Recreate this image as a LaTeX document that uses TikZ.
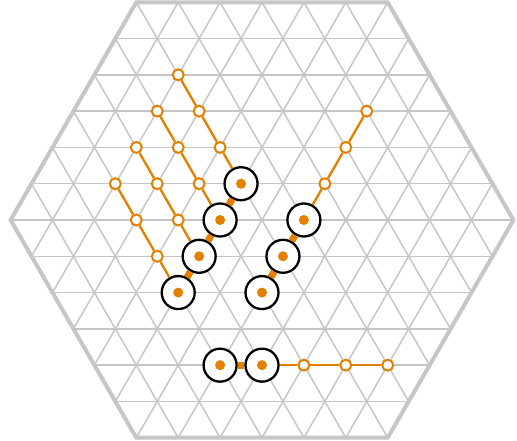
\documentclass[tikz,border=0pt]{standalone}
\definecolor{gcol}{RGB}{228,128,0}
\definecolor{gridc}{RGB}{198,198,198}
\tikzset{
  opennode/.style={circle,draw=gcol,line width=2pt,fill=white,minimum size=11pt,inner sep=0pt},
  bignode/.style={circle,draw=black,line width=2.3pt,fill=white,minimum size=33pt,inner sep=0pt,
    path picture={\fill[gcol] (path picture bounding box.center) circle (5pt);}},
  thinedge/.style={draw=gcol,line width=2.3pt},
  thickedge/.style={draw=gcol,line width=7pt},
}
\newcommand{\ax}{20.95}
\newcommand{\ay}{36.29}
\begin{document}
\begin{tikzpicture}[x=1pt,y=-1pt]
\useasboundingbox (0,0) rectangle (517,441);
% hexagon corners
\coordinate (h1) at ({262-6*\ax},{220-6*\ay});
\coordinate (h2) at ({262+6*\ax},{220-6*\ay});
\coordinate (h3) at ({262+12*\ax},220);
\coordinate (h4) at ({262+6*\ax},{220+6*\ay});
\coordinate (h5) at ({262-6*\ax},{220+6*\ay});
\coordinate (h6) at ({262-12*\ax},220);
\begin{scope}
  \clip (h1) -- (h2) -- (h3) -- (h4) -- (h5) -- (h6) -- cycle;
  \foreach \k in {0,...,12} {
    \draw[gridc,line width=1.5pt] (0,{220+(\k-6)*\ay}) -- (517,{220+(\k-6)*\ay});
  }
  \foreach \m in {-24,-22,...,24} {
    \draw[gridc,line width=1.5pt] ({262+\m*\ax-7*\ax},{220-7*\ay}) -- ({262+\m*\ax+7*\ax},{220+7*\ay});
    \draw[gridc,line width=1.5pt] ({262+\m*\ax+7*\ax},{220-7*\ay}) -- ({262+\m*\ax-7*\ax},{220+7*\ay});
  }
\end{scope}
\draw[gridc,line width=4pt,line join=miter] (h1) -- (h2) -- (h3) -- (h4) -- (h5) -- (h6) -- cycle;
% nodes
\newcommand{\Pos}[2]{({262+(#1)*\ax},{220+((#2)-6)*\ay})}
\node[opennode] (a1) at \Pos{-4}{2} {};
\node[opennode] (a2) at \Pos{-3}{3} {};
\node[opennode] (a3) at \Pos{-2}{4} {};
\node[opennode] (b1) at \Pos{-5}{3} {};
\node[opennode] (b2) at \Pos{-4}{4} {};
\node[opennode] (b3) at \Pos{-3}{5} {};
\node[opennode] (c1) at \Pos{-6}{4} {};
\node[opennode] (c2) at \Pos{-5}{5} {};
\node[opennode] (c3) at \Pos{-4}{6} {};
\node[opennode] (d1) at \Pos{-7}{5} {};
\node[opennode] (d2) at \Pos{-6}{6} {};
\node[opennode] (d3) at \Pos{-5}{7} {};
\node[opennode] (r1) at \Pos{5}{3} {};
\node[opennode] (r2) at \Pos{4}{4} {};
\node[opennode] (r3) at \Pos{3}{5} {};
\node[opennode] (e1) at \Pos{2}{10} {};
\node[opennode] (e2) at \Pos{4}{10} {};
\node[opennode] (e3) at \Pos{6}{10} {};
\node[bignode] (B1) at \Pos{-1}{5} {};
\node[bignode] (B2) at \Pos{-2}{6} {};
\node[bignode] (B3) at \Pos{-3}{7} {};
\node[bignode] (B4) at \Pos{-4}{8} {};
\node[bignode] (R1) at \Pos{2}{6} {};
\node[bignode] (R2) at \Pos{1}{7} {};
\node[bignode] (R3) at \Pos{0}{8} {};
\node[bignode] (L1) at \Pos{-2}{10} {};
\node[bignode] (L2) at \Pos{0}{10} {};
% edges
\path[thinedge] (a1) -- (a2) (a2) -- (a3) (a3) -- (B1);
\path[thinedge] (b1) -- (b2) (b2) -- (b3) (b3) -- (B2);
\path[thinedge] (c1) -- (c2) (c2) -- (c3) (c3) -- (B3);
\path[thinedge] (d1) -- (d2) (d2) -- (d3) (d3) -- (B4);
\path[thinedge] (r1) -- (r2) (r2) -- (r3) (r3) -- (R1);
\path[thinedge] (L2) -- (e1) (e1) -- (e2) (e2) -- (e3);
\path[thickedge] (B1) -- (B2) (B2) -- (B3) (B3) -- (B4);
\path[thickedge] (R1) -- (R2) (R2) -- (R3);
\path[thickedge] (L1) -- (L2);
\end{tikzpicture}
\end{document}
